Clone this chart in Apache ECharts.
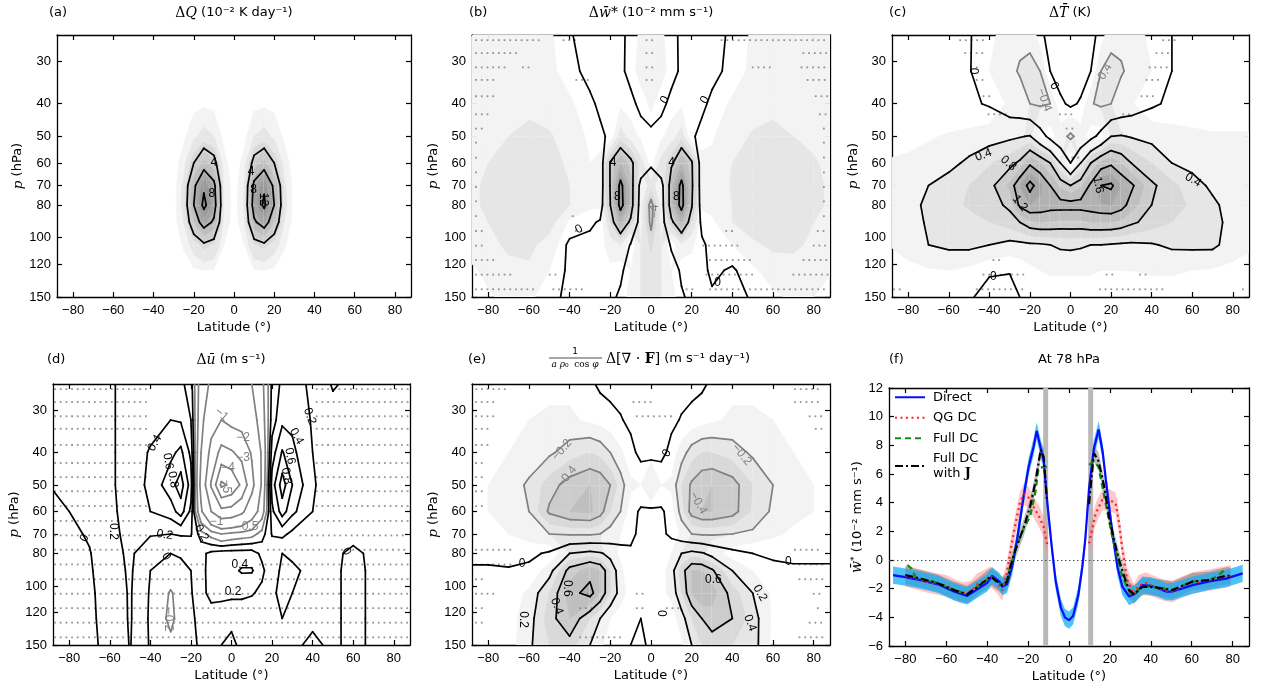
<!DOCTYPE html>
<html>
<head>
<meta charset="utf-8">
<title>Response to tropical lower-stratospheric heating</title>
<script src="https://cdn.jsdelivr.net/npm/echarts@6/dist/echarts.min.js"></script>
<style>
  html, body { margin: 0; padding: 0; background: #fff; }
  #chart { width: 1263px; height: 689px; }
</style>
</head>
<body>
<div id="chart"></div>
<script>
// grid used by the five latitude-pressure panels (rows = pressures, cols = lats)
const lats = [-90, -80, -70, -60, -50, -40, -30, -25, -20, -15, -10, -5, 0, 5, 10, 15, 20, 25, 30, 40, 50, 60, 70, 80, 90];
const pressures = [150, 125, 105, 90, 80, 70, 60, 50, 40, 32, 25];
const pressureTicks = [30, 40, 50, 60, 70, 80, 100, 120, 150];
const latTicks = [-80, -60, -40, -20, 0, 20, 40, 60, 80];

// (a) heating, 10^-2 K/day
const heating = [
  [0,0,0,0,0,0,0,0,0,0,0,0,0,0,0,0,0,0,0,0,0,0,0,0,0],
  [0,0,0,0,0,0,0,0.1,0.3,0.5,0.4,0.1,0,0.1,0.4,0.5,0.3,0.1,0,0,0,0,0,0,0],
  [0,0,0,0,0,0,0,0.6,2.2,3.5,2.8,0.5,0,0.5,2.8,3.5,2.2,0.6,0,0,0,0,0,0,0],
  [0,0,0,0,0,0,0,1.5,6.0,9.5,7.5,1.2,0,1.2,7.5,9.5,6.0,1.5,0,0,0,0,0,0,0],
  [0,0,0,0,0,0,0,2.0,8.0,12.8,9.5,1.5,0,1.5,9.5,12.6,8.0,2.0,0,0,0,0,0,0,0],
  [0,0,0,0,0,0,0,1.8,7.3,11.5,8.8,1.3,0,1.3,8.8,11.5,7.3,1.8,0,0,0,0,0,0,0],
  [0,0,0,0,0,0,0,1.0,4.0,6.5,5.0,0.8,0,0.8,5.0,6.5,4.0,1.0,0,0,0,0,0,0,0],
  [0,0,0,0,0,0,0,0.3,1.2,2.0,1.5,0.2,0,0.2,1.5,2.0,1.2,0.3,0,0,0,0,0,0,0],
  [0,0,0,0,0,0,0,0,0.2,0.3,0.2,0,0,0,0.2,0.3,0.2,0,0,0,0,0,0,0,0],
  [0,0,0,0,0,0,0,0,0,0,0,0,0,0,0,0,0,0,0,0,0,0,0,0,0],
  [0,0,0,0,0,0,0,0,0,0,0,0,0,0,0,0,0,0,0,0,0,0,0,0,0]
];
// (b) residual vertical velocity, 10^-2 mm/s
const wstar = [
  [-0.5,-0.9,-1.2,-1.2,-0.5,0.4,0.5,0.6,0.4,-0.3,-1.5,-2.0,-2.2,-2.0,-1.5,-0.2,0.4,0.5,0.2,0.3,-0.1,-0.8,-1.2,-1.0,-0.6],
  [-0.8,-1.2,-1.7,-1.8,-1.0,0.3,0.4,0.5,0.8,0.4,-1.0,-2.0,-2.5,-2.0,-1.0,0.3,0.6,0.4,-0.3,0.2,-0.8,-1.5,-1.6,-1.3,-1.0],
  [-1.3,-1.7,-2.2,-2.3,-1.5,0.3,0.5,0.6,1.5,2.0,-0.2,-2.0,-3.2,-2.0,0.3,1.8,1.2,0.3,-0.5,-1.0,-1.8,-2.2,-2.2,-1.8,-1.4],
  [-1.6,-2.0,-2.6,-2.8,-2.5,-0.8,-0.3,0.2,3.0,6.0,3.5,-1.5,-4.4,-1.5,3.5,6.0,3.0,-0.5,-0.8,-2.0,-2.5,-2.7,-2.5,-2.0,-1.7],
  [-1.7,-2.2,-2.7,-2.9,-2.7,-2.0,-1.2,-1.2,4.0,8.8,5.5,-1.5,-4.6,-1.5,5.5,8.8,4.2,-1.2,-1.3,-2.0,-2.6,-2.8,-2.6,-2.2,-1.8],
  [-1.7,-2.2,-2.6,-2.8,-2.6,-2.0,-1.2,-1.5,4.2,8.6,5.5,-1.1,-2.5,-1.2,5.5,8.6,4.5,-1.5,-1.3,-2.1,-2.6,-2.8,-2.6,-2.2,-1.8],
  [-1.6,-2.0,-2.4,-2.6,-2.4,-1.8,-1.0,-1.5,4.2,6.0,4.5,2.4,0.6,2.4,3.6,6.0,4.3,-1.5,-1.2,-2.0,-2.5,-2.7,-2.5,-2.1,-1.7],
  [-1.5,-1.8,-2.0,-2.2,-2.1,-1.6,-0.8,-0.3,0.3,2.5,1.5,0.8,0.5,0.8,1.5,2.5,0.2,-0.4,-0.9,-1.6,-2.1,-2.2,-2.0,-1.8,-1.5],
  [-1.4,-1.6,-1.8,-1.8,-1.6,-1.2,-0.3,0.3,0.7,0.8,0.5,-0.5,-1.2,-0.5,0.5,0.8,0.7,0.3,-0.3,-1.2,-1.6,-1.8,-1.8,-1.6,-1.4],
  [-1.3,-1.3,-1.3,-1.3,-1.3,-0.5,0.5,0.6,0.6,0.4,-0.6,-1.4,-1.7,-1.4,-0.6,0.3,0.6,0.6,0.4,-0.4,-1.3,-1.3,-1.3,-1.3,-1.3],
  [-1.2,-1.2,-1.3,-1.3,-1.2,-0.1,0.5,0.5,0.5,0.4,-0.5,-1.2,-1.5,-1.2,-0.5,0.3,0.5,0.5,0.4,-0.2,-1.2,-1.3,-1.3,-1.2,-1.2]
];
// (c) temperature, K
const temp = [
  [0.06,0.08,0.1,0.1,0.05,-0.15,-0.2,0.0,0.1,0.12,0.12,0.12,0.12,0.12,0.12,0.12,0.12,0.12,0.12,0.12,0.12,0.1,0.1,0.08,0.06],
  [0.12,0.15,0.18,0.2,0.15,0.05,0.03,0.08,0.15,0.2,0.22,0.22,0.22,0.22,0.22,0.2,0.2,0.2,0.2,0.22,0.22,0.2,0.18,0.15,0.12],
  [0.2,0.28,0.4,0.45,0.46,0.4,0.33,0.34,0.36,0.37,0.4,0.44,0.45,0.43,0.4,0.4,0.38,0.36,0.35,0.38,0.44,0.45,0.45,0.3,0.22],
  [0.22,0.3,0.43,0.5,0.55,0.6,0.7,0.8,0.95,1.0,0.98,0.95,0.95,0.95,1.0,1.0,1.0,0.95,0.85,0.7,0.6,0.55,0.48,0.32,0.25],
  [0.25,0.32,0.45,0.55,0.62,0.7,0.85,1.25,1.4,1.35,1.3,1.3,1.3,1.3,1.32,1.38,1.4,1.3,1.1,0.8,0.65,0.58,0.45,0.3,0.25],
  [0.25,0.3,0.4,0.5,0.6,0.72,1.05,1.4,1.7,1.45,1.2,0.95,0.8,0.95,1.25,1.6,1.65,1.4,1.25,0.85,0.65,0.5,0.35,0.3,0.28],
  [0.22,0.25,0.28,0.33,0.45,0.58,0.72,0.85,1.15,1.0,0.8,0.4,0.0,0.4,0.8,1.05,1.15,1.0,0.8,0.6,0.4,0.32,0.28,0.25,0.25],
  [0.1,0.12,0.18,0.22,0.25,0.3,0.35,0.38,0.42,0.15,-0.1,-0.3,-0.45,-0.3,-0.1,0.1,0.4,0.42,0.38,0.32,0.28,0.25,0.22,0.22,0.22],
  [0.08,0.08,0.06,0.05,0.05,-0.03,-0.25,-0.3,-0.4,-0.45,-0.4,-0.05,0.05,-0.03,-0.38,-0.45,-0.4,-0.3,-0.22,-0.05,0.06,0.06,0.08,0.08,0.08],
  [0.05,0.05,0.05,0.03,0.02,-0.2,-0.35,-0.42,-0.45,-0.4,0.0,0.12,0.15,0.12,0.0,-0.4,-0.45,-0.42,-0.35,-0.2,0.0,0.03,0.05,0.05,0.05],
  [0.05,0.05,0.05,0.05,0.02,-0.15,-0.3,-0.35,-0.35,-0.1,0.15,0.1,0.1,0.1,0.1,-0.1,-0.35,-0.35,-0.3,-0.15,0.0,0.05,0.05,0.05,0.05]
];
// (d) zonal wind, m/s
const uwind = [
  [-0.04,-0.03,-0.03,0.04,0.21,-0.02,-0.15,-0.1,-0.03,0.02,0.05,0.0,-0.05,0.05,0.05,0.02,0.02,0.02,0.02,-0.02,0.02,-0.03,0.02,0.02,0.02],
  [-0.05,-0.04,-0.03,0.06,0.22,-0.03,-0.25,-0.12,-0.03,0.05,0.12,0.1,0.05,0.05,0.05,0.05,0.0,0.0,0.02,0.02,0.02,-0.03,0.02,0.02,0.02],
  [-0.07,-0.05,-0.03,0.08,0.22,-0.02,-0.22,-0.12,-0.02,0.15,0.25,0.25,0.25,0.25,0.22,0.15,0.02,-0.03,0.0,0.03,0.02,-0.03,0.02,0.02,0.02],
  [-0.08,-0.05,-0.02,0.1,0.23,0.0,-0.08,-0.05,0.0,0.12,0.3,0.35,0.35,0.42,0.42,0.25,0.05,-0.02,-0.02,0.03,0.02,-0.03,0.02,0.02,0.02],
  [-0.08,-0.05,-0.01,0.12,0.24,0.05,0.0,0.02,0.05,0.15,0.25,0.3,0.3,0.3,0.3,0.15,0.05,0.0,0.02,0.05,0.02,-0.02,0.02,0.02,0.02],
  [-0.08,-0.04,0.02,0.15,0.25,0.22,0.2,0.22,0.22,-0.1,-0.3,-0.5,-0.4,-0.35,-0.3,-0.1,0.22,0.25,0.15,0.1,0.05,0.03,0.05,0.05,0.05],
  [-0.05,0.0,0.08,0.16,0.27,0.4,0.5,0.7,0.35,-0.9,-2.0,-2.7,-2.6,-2.2,-1.4,-0.7,0.35,0.7,0.45,0.2,0.08,0.08,0.08,0.08,0.08],
  [0.0,0.08,0.12,0.17,0.28,0.45,0.72,0.9,0.5,-1.2,-3.1,-5.2,-4.8,-3.8,-2.3,-0.9,0.5,0.9,0.6,0.22,0.1,0.1,0.1,0.1,0.1],
  [0.1,0.11,0.13,0.17,0.28,0.42,0.55,0.65,0.35,-1.0,-2.3,-3.3,-3.1,-2.7,-1.9,-0.9,0.3,0.62,0.45,0.2,0.1,0.1,0.1,0.1,0.1],
  [0.12,0.12,0.13,0.17,0.28,0.32,0.4,0.38,0.2,-0.8,-1.6,-2.0,-1.7,-1.6,-1.3,-0.7,0.1,0.35,0.35,0.18,0.08,0.08,0.1,0.1,0.1],
  [0.12,0.12,0.13,0.17,0.28,0.3,0.25,0.25,0.1,-0.7,-1.1,-1.3,-1.3,-1.2,-1.0,-0.6,0.05,0.25,0.3,0.15,-0.02,0.05,0.08,0.1,0.1]
];
// (e) EP flux divergence term, m/s/day
const epdiv = [
  [0.02,0.03,0.05,0.18,0.3,0.35,0.2,0.12,0.05,0.02,0.0,-0.02,0.02,0.02,0.03,0.08,0.2,0.3,0.35,0.3,0.25,0.07,0.04,0.03,0.02],
  [0.03,0.04,0.06,0.15,0.35,0.5,0.3,0.2,0.1,0.05,0.02,0.0,0.02,0.03,0.05,0.15,0.3,0.4,0.45,0.4,0.25,0.08,0.05,0.04,0.03],
  [0.04,0.04,0.05,0.12,0.3,0.55,0.65,0.5,0.3,0.15,0.05,0.05,0.08,0.08,0.12,0.3,0.5,0.6,0.55,0.35,0.2,0.08,0.05,0.04,0.04],
  [0.02,0.02,0.01,0.03,0.15,0.45,0.55,0.5,0.3,0.12,0.04,0.04,0.05,0.06,0.15,0.35,0.5,0.5,0.42,0.2,0.1,0.03,0.02,0.02,0.02],
  [-0.04,-0.04,-0.04,-0.03,0.02,0.2,0.25,0.22,0.15,0.08,0.02,0.03,0.04,0.05,0.1,0.2,0.25,0.22,0.15,0.05,0.0,-0.02,-0.03,-0.03,-0.03],
  [-0.06,-0.08,-0.1,-0.15,-0.2,-0.22,-0.22,-0.2,-0.15,-0.1,-0.03,0.03,0.05,0.03,-0.03,-0.12,-0.2,-0.22,-0.22,-0.2,-0.18,-0.12,-0.08,-0.06,-0.05],
  [-0.08,-0.1,-0.15,-0.2,-0.42,-0.5,-0.52,-0.45,-0.3,-0.2,-0.05,0.02,0.03,0.02,-0.05,-0.25,-0.45,-0.5,-0.5,-0.45,-0.28,-0.18,-0.13,-0.1,-0.08],
  [-0.07,-0.1,-0.14,-0.22,-0.35,-0.45,-0.5,-0.48,-0.4,-0.25,-0.12,-0.1,-0.2,-0.1,-0.12,-0.3,-0.42,-0.48,-0.5,-0.45,-0.3,-0.2,-0.14,-0.1,-0.07],
  [-0.06,-0.08,-0.1,-0.13,-0.18,-0.25,-0.3,-0.27,-0.2,-0.12,-0.04,0.04,0.06,0.04,-0.04,-0.15,-0.25,-0.3,-0.3,-0.25,-0.18,-0.13,-0.1,-0.08,-0.06],
  [-0.06,-0.07,-0.08,-0.1,-0.12,-0.12,-0.08,-0.06,-0.04,-0.01,0.03,0.05,0.08,0.05,0.03,-0.01,-0.04,-0.06,-0.08,-0.12,-0.12,-0.1,-0.08,-0.07,-0.06],
  [-0.05,-0.05,-0.06,-0.06,-0.07,-0.07,-0.02,0.02,0.04,0.05,0.05,0.06,0.08,0.06,0.05,0.05,0.04,0.02,-0.02,-0.07,-0.07,-0.06,-0.06,-0.05,-0.05]
];

// contour labels: [lat, p, text, rotation deg]
const labelsA = [[-10, 60, '4', 0], [-11, 74, '8', 0], [8.5, 63.5, '4', 0], [9.8, 72, '8', 0], [14.8, 77, '12', -90]];
const labelsB = [[6.8, 39, '0', 60], [26.5, 39, '0', 60], [-18.6, 60, '4', 0], [10.1, 60, '4', 0], [-16.5, 75.5, '8', 0],
  [12.5, 75.5, '8', 0], [1.9, 83.6, '−4', 90], [-35.4, 94.4, '0', 30], [32.7, 136, '0', 0]];
const labelsC = [[-47.8, 32, '0', -90], [-8, 35.4, '0', -60], [-13, 39, '−0.4', -70], [16.2, 32.8, '−0.4', 60],
  [-42.9, 56.8, '0.4', 20], [-30.6, 60.1, '0.8', -40], [-24.9, 79, '1.2', -50], [13.7, 69.7, '1.6', -80],
  [60.4, 67.4, '0.4', -30], [-38, 130.5, '0', 0]];
const labelsD = [[-4.9, 30.8, '−1', -40], [5.75, 36.2, '−2', 0], [5.75, 41.5, '−3', 0], [-1.65, 44.5, '−4', 0],
  [-2.5, 50.5, '−5', -90], [-7.4, 64.2, '−1', 0], [7.4, 66.4, '−0.5', 0], [-37.8, 37.5, '0.4', 60],
  [-31.3, 42.5, '0.6', -80], [-28.8, 48.2, '0.8', -80], [38.6, 31.2, '0.2', -70], [32.1, 35.8, '0.4', -60],
  [28.8, 41, '0.6', -80], [27.1, 47, '0.8', -80], [-32.9, 70.4, '0.2', -10], [-14.8, 69.5, '0.2', -60],
  [-72.4, 72, '0', 60], [-58.4, 68.8, '0.2', -90], [-32.1, 81.7, '0', -60], [4.1, 86.5, '0.4', 0],
  [0.8, 104, '0.2', 0], [-31.3, 126, '−0.2', -90], [56.7, 79, '0', -60]];
const labelsE = [[-43.8, 39.3, '−0.2', 50], [-41.3, 47.2, '−0.4', 50], [7.8, 40.2, '0', 60], [44.6, 40.6, '−0.2', -50],
  [23.3, 56.6, '−0.4', -60], [-63.4, 85.6, '0', 0], [67.5, 84.6, '0', 0], [-41.3, 101.6, '0.6', -90],
  [-46.3, 115, '0.4', -70], [-62.6, 126, '0.2', -90], [30.7, 96, '0.6', 0], [53.6, 105, '0.2', -60],
  [48.7, 129, '0.4', -70], [5.3, 120.7, '0', -90]];

// stippling (significance): model levels and [level index, lat from, lat to] runs
const stippleLevels = [25.9, 28.3, 31.2, 34.0, 38.0, 43.0, 47.4, 52.2, 57.8, 64.0, 70.7, 78.0, 86.3, 95.5, 105.5, 116.5, 128.7, 142.3];
const stippleStep = 2.8;
const stippleB = [[0,-86,-54.7],[0,-43,-35],[0,-2.2,2.7],[0,34.7,87],[1,-86,-66],[1,-2.2,2.7],[1,74.9,87],
  [2,-86,-69.5],[2,-63,-59.6],[2,-2.2,2.7],[2,50,58.5],[2,74,87],[3,-86,-76],[3,-36.7,-28.5],[3,-2.2,2.7],[3,77,87],
  [4,-86,-76],[4,81,87],[5,-86,-79],[5,83,87],[6,-86,-82],[6,85,87],[7,-86,-85],[7,85,87],[8,-86,-85],[8,85,87],
  [9,-86,-85],[9,85,87],[10,-86,-85],[10,85,87],[11,-86,-85],[11,85,87],[12,-86,-84],[12,-38.5,-37],[12,85,87],
  [13,-86,-81],[13,-37,-32],[13,37,40],[13,82,87],[14,-86,-82],[14,25.7,43.7],[14,80,87],
  [15,-86,-76],[15,29,48.6],[15,75,87],[16,-86,-68],[16,-49.8,-44.9],[16,27.3,51.9],[16,70,87],
  [17,-86,-58],[17,-48,-31.7],[17,17.5,22.4],[17,29,87]];
const stippleC = [[0,-54.4,-42.9],[0,45.7,53.9],[1,-51.9,-42.9],[1,42.4,49],[2,-49,-44],[2,39,49],[3,-46.2,-41.3],[3,37.5,45.7],
  [4,-42.9,-38],[4,35,42.4],[5,-40.4,-29.8],[5,-5.2,1.4],[5,26,29],[6,-1.9,1.4],[8,-1.9,4.7],
  [15,-38,-34.7],[16,-42.9,-23.2],[16,17.8,21],[16,34.2,37.5],[17,-87,-82.3],[17,-46.2,-21.6],[17,14.5,45.7],[17,85,87]];
const stippleD = [[0,-87,-42],[0,42,87],[1,-87,-42],[1,42,87],[2,-87,-42],[2,42,87],[3,-87,-42],[3,42,87],
  [4,-87,-41],[4,42,87],[5,-87,-41],[5,42,87],[6,-87,-41],[6,42,87],[7,-87,-41],[7,42,87],[8,-87,-41],[8,42,87],
  [9,-87,-42],[9,42,87],[10,-87,-40],[10,34,87],[11,-87,-22],[11,18,87],[12,-87,-12],[12,14,87],
  [13,-87,-14],[13,14,87],[14,-87,87],[15,-87,87],[16,-87,87],[17,-87,87]];
const stippleE = [[0,-85.9,-69.2],[0,70.8,84.7],[1,-86,-75.7],[1,-8.6,1.2],[1,70.8,84.7],[2,-86,-75.7],[2,-7,11],[2,78,84.7],
  [3,-86,-79],[3,81,84.7],[4,-86,-79],[5,-86,-83],[6,-86,-83],[7,-86,-83],[8,-86,-83],
  [11,-86,-69.2],[11,70.8,84.7],[12,-86,-69.2],[12,73,84.7],[13,-86,-81],[13,73,84.7],
  [14,-86,-75.7],[14,-34,-28],[14,-7,-2],[14,80,84.7],[15,-86,-81],[15,-34.8,-28.3],[15,-7,-2],[15,7.8,14.3],[15,82,84.7],
  [16,-86,-81],[16,78,84.7],[17,-34.8,-15.1],[17,73,84.7]];

// (f) w* at 78 hPa, 10^-2 mm/s
const directLat = [-86,-80,-72.6,-64,-56.3,-49.8,-43.3,-40,-37.6,-34,-32.7,-30.3,-27.8,-25.4,-22.2,-19.7,-17.3,-15.8,-13.5,-12.4,
  -10.6,-8.5,-6.5,-4,-2,0,2,4.5,6.5,8,9.8,12.2,14.5,16.5,18,21.2,23.7,26.1,29.4,32.7,35.9,40,44,47.4,50.6,55,60.4,68.5,76.7,84.9];
const directVal = [-1.05,-1.2,-1.4,-1.7,-2.2,-2.5,-1.9,-1.6,-1.1,-1.5,-1.86,-1.7,-0.47,1.4,4.43,6.53,7.9,9.0,7.6,7.0,
  4.0,1.0,-1.5,-3.3,-4.0,-4.2,-3.9,-2.5,-0.5,1.5,5.0,7.8,9.1,7.5,5.6,1.9,-0.5,-1.86,-2.55,-2.3,-1.75,-1.8,-2.0,-2.2,-2.2,-2.0,-1.75,-1.5,-1.3,-0.93];
const qgLat = [-80,-75,-70,-64,-60,-56,-52,-48,-45,-41,-38,-35,-32.7,-30.5,-28.8,-26.2,-24,-22,-20,-17.3,-14.5,-12.4,-10.5,
  9.8,13.1,16.3,19.6,22.8,24.5,26.1,28.5,31.8,34,37.5,42.4,46,50.6,55,60.4,68.5,76.7,79];
const qgVal = [-1.1,-1.3,-1.5,-1.7,-1.8,-2.1,-2.3,-2.2,-1.7,-1.4,-1.2,-1.6,-2.1,-1.0,0.5,2.5,4.0,4.6,4.4,3.7,3.0,2.3,1.0,
  1.16,3.27,4.2,4.2,3.96,2.57,0.7,-1.4,-2.4,-1.8,-1.6,-1.9,-2.1,-2.2,-1.9,-1.6,-1.4,-1.16,-1.1];
const fullLat = [-79,-77,-75,-70,-64,-56,-50,-45,-38,-33,-30.3,-28.7,-26.2,-23.8,-22.2,-19,-16.5,-14.9,-12.4,-10.8,
  9.8,12.2,14.4,16.3,18.8,21.2,23.7,26.1,28.5,30.1,32,36,42.4,50.6,60.4,68.5,73,76.7];
const fullVal = [-0.35,-0.6,-1.2,-1.4,-1.6,-2.1,-2.4,-1.9,-1.16,-1.75,-1.5,-0.47,0.7,1.63,2.2,3.03,4.67,6.4,6.5,6.5,
  6.64,6.9,6.5,5.13,3.3,1.6,0.2,-1.16,-1.86,-2.4,-2.3,-1.86,-1.9,-2.1,-1.5,-1.4,-1.1,-0.58];
const fullJLat = [-80,-72.6,-64.5,-56.3,-49.8,-44.9,-38.4,-32.7,-30.3,-28.7,-26.2,-23.8,-22.2,-19,-16.5,-13.8,-12.4,-10.8,
  9.8,12.2,14.4,17.2,19.6,22,24.5,27,29.4,31.8,35.9,42.4,50.6,60.4,68.5,76.7,79];
const fullJVal = [-1.05,-1.3,-1.6,-2.1,-2.4,-1.9,-1.16,-1.75,-1.5,-0.47,0.7,1.63,2.24,3.73,5.37,7.7,7.2,4.2,
  3.9,7.46,6.9,5.13,3.0,1.4,0.0,-1.16,-2.1,-2.4,-1.86,-1.9,-2.1,-1.5,-1.4,-1.1,-1.1];
const directSpread = 0.6, qgSpread = 0.75, fullJSpread = 0.6;
const masked = [-11.4, 10.6];   // latitudes greyed out in (f)

const chart = echarts.init(document.getElementById('chart'));
const SANS = 'DejaVu Sans';
const NUM = 'Liberation Sans';
const SERIF = 'DejaVu Serif';
const NEG = '#808080';
const lp = p => Math.log10(p);
const minus = v => String(v).replace('-', '−');
function shade(k) { const g = 243 - k * 13; return 'rgb(' + g + ',' + g + ',' + g + ')'; }

// plot boxes in pixels: a b c / d e f
const boxes = [
  { left: 57, top: 35, width: 354, height: 262 },
  { left: 472, top: 35, width: 358, height: 262 },
  { left: 892, top: 35, width: 357, height: 262 },
  { left: 53, top: 384, width: 357, height: 261 },
  { left: 472, top: 384, width: 358, height: 261 },
  { left: 889, top: 388, width: 360, height: 258 }
];

const panels = [
  { field: heating, fills: [0.5, 1.5, 3, 4.5, 6, 7.5, 9, 10.5, 12], lines: [4, 8, 12], labels: labelsA, stipple: [] },
  { field: wstar, fills: [1, 2, 3, 4, 5, 6, 7, 8], lines: [-4, 0, 4, 8], labels: labelsB, stipple: stippleB },
  { field: temp, fills: [0.2, 0.4, 0.6, 0.8, 1.0, 1.2, 1.4, 1.6], lines: [-0.4, 0, 0.4, 0.8, 1.2, 1.6], labels: labelsC, stipple: stippleC },
  { field: uwind, fills: [], lines: [-5, -4, -3, -2, -1, -0.5, -0.2, 0, 0.2, 0.4, 0.6, 0.8], labels: labelsD, stipple: stippleD },
  { field: epdiv, fills: [0.1, 0.2, 0.3, 0.4, 0.5, 0.6], lines: [-0.4, -0.2, 0, 0.2, 0.4, 0.6], labels: labelsE, stipple: stippleE }
];

const axisLine = { show: true, onZero: false, lineStyle: { color: '#000', width: 1.3 } };
const tickStyle = { color: '#000', width: 1.2 };
const labelFont = { fontFamily: NUM, fontSize: 13, color: '#000' };
const nameFont = { fontFamily: SANS, fontSize: 13, color: '#000' };

const xAxis = [], yAxis = [];
boxes.forEach((b, k) => {
  const base = { type: 'value', gridIndex: k, min: -88, max: 88, axisLine, splitLine: { show: false },
    axisTick: { inside: true, length: 5, customValues: latTicks, lineStyle: tickStyle } };
  xAxis.push(Object.assign({}, base, { position: 'bottom', name: 'Latitude (°)', nameLocation: 'middle', nameGap: 24,
    nameTextStyle: nameFont,
    axisLabel: Object.assign({ customValues: latTicks, margin: 7, formatter: minus }, labelFont) }));
  xAxis.push(Object.assign({}, base, { position: 'top', axisLabel: { show: false } }));

  if (k < 5) {
    const ticks = pressureTicks.map(lp);
    const ybase = { type: 'value', gridIndex: k, inverse: true, min: lp(25), max: lp(150), axisLine, splitLine: { show: false },
      axisTick: { inside: true, length: 5, customValues: ticks, lineStyle: tickStyle } };
    yAxis.push(Object.assign({}, ybase, { position: 'left', name: '{i|p} (hPa)', nameLocation: 'middle', nameRotate: 90,
      nameGap: k === 0 ? 32 : 29,
      nameTextStyle: Object.assign({ rich: { i: { fontFamily: SERIF, fontStyle: 'italic', fontSize: 13.5 } } }, nameFont),
      axisLabel: Object.assign({ customValues: ticks, margin: 6, formatter: v => String(Math.round(Math.pow(10, v))) }, labelFont) }));
    yAxis.push(Object.assign({}, ybase, { position: 'right', axisLabel: { show: false } }));
  } else {
    const ybase = { type: 'value', gridIndex: k, min: -6, max: 12, interval: 2, axisLine, splitLine: { show: false },
      axisTick: { inside: true, length: 5, lineStyle: tickStyle } };
    yAxis.push(Object.assign({}, ybase, { position: 'left', name: '{i|w̄}{s|*} (10⁻² mm s⁻¹)', nameLocation: 'middle',
      nameRotate: 90, nameGap: 23,
      nameTextStyle: Object.assign({ rich: {
        i: { fontFamily: SERIF, fontStyle: 'italic', fontSize: 14 }, s: { fontFamily: SANS, fontSize: 9, verticalAlign: 'top' } } }, nameFont),
      axisLabel: Object.assign({ margin: 6, formatter: minus }, labelFont) }));
    yAxis.push(Object.assign({}, ybase, { position: 'right', axisLabel: { show: false } }));
  }
});

// filled bands of |value| and contour lines, one cell of the lat-p grid at a time
function contourSeries(k, field, levels, mode) {
  const cells = [];
  for (let i = 0; i < pressures.length - 1; i++)
    for (let j = 0; j < lats.length - 1; j++)
      cells.push([lats[j], lp(pressures[i]), i, j]);
  return {
    type: 'custom', xAxisIndex: 2 * k, yAxisIndex: 2 * k, clip: true, silent: true, animation: false,
    z: mode === 'fill' ? 1 : 3,
    data: cells, encode: { x: 0, y: 1 },
    renderItem(params, api) {
      const i = api.value(2), j = api.value(3);
      const idx = [[i, j], [i, j + 1], [i + 1, j + 1], [i + 1, j]];
      const pts = idx.map(([a, b]) => api.coord([lats[b], lp(pressures[a])]));
      const raw = idx.map(([a, b]) => field[a][b]);
      const cut = (c, n, v, L) => {
        const t = (L - v[c]) / (v[n] - v[c]);
        return [pts[c][0] + t * (pts[n][0] - pts[c][0]), pts[c][1] + t * (pts[n][1] - pts[c][1])];
      };
      const children = [];
      if (mode === 'fill') {
        const v = raw.map(Math.abs);
        levels.forEach((L, s) => {
          const poly = [];
          for (let c = 0; c < 4; c++) {
            const n = (c + 1) % 4;
            if (v[c] >= L) poly.push(pts[c]);
            if ((v[c] >= L) !== (v[n] >= L)) poly.push(cut(c, n, v, L));
          }
          if (poly.length > 2)
            children.push({ type: 'polygon', shape: { points: poly }, style: { fill: shade(s), stroke: shade(s), lineWidth: 0.6 } });
        });
      } else {
        const v = raw;
        levels.forEach(L => {
          const cross = [];
          for (let c = 0; c < 4; c++) {
            const n = (c + 1) % 4;
            cross.push((v[c] >= L) !== (v[n] >= L) ? cut(c, n, v, L) : null);
          }
          const hit = cross.filter(Boolean);
          let segs = [];
          if (hit.length === 2) segs = [hit];
          else if (hit.length === 4) {
            const mid = (v[0] + v[1] + v[2] + v[3]) / 4;
            segs = ((mid >= L) === (v[0] >= L)) ? [[cross[0], cross[1]], [cross[2], cross[3]]]
                                               : [[cross[3], cross[0]], [cross[1], cross[2]]];
          }
          segs.forEach(sg => children.push({ type: 'polyline', shape: { points: sg },
            style: { stroke: L < 0 ? NEG : '#000', lineWidth: 1.7, fill: null, lineCap: 'round' } }));
        });
      }
      return { type: 'group', children };
    }
  };
}

function labelSeries(k, labels) {
  return {
    type: 'custom', xAxisIndex: 2 * k, yAxisIndex: 2 * k, silent: true, animation: false, z: 4,
    data: labels.map((l, n) => [l[0], lp(l[1]), n]), encode: { x: 0, y: 1 },
    renderItem(params, api) {
      const l = labels[api.value(2)];
      const pos = api.coord([l[0], lp(l[1])]);
      return { type: 'text', x: pos[0], y: pos[1], rotation: l[3] * Math.PI / 180,
        style: { text: l[2], font: '12px "Liberation Sans"', fill: l[2].startsWith('−') ? NEG : '#000',
          textAlign: 'center', textVerticalAlign: 'middle', align: 'center', verticalAlign: 'middle' } };
    }
  };
}

function stippleSeries(k, runs) {
  const dots = [];
  runs.forEach(([lev, a, b]) => {
    for (let x = a; x <= b + 0.01; x += stippleStep) dots.push([x, lp(stippleLevels[lev])]);
  });
  return { type: 'scatter', xAxisIndex: 2 * k, yAxisIndex: 2 * k, silent: true, animation: false, z: 2,
    symbol: 'rect', symbolSize: 1.8, itemStyle: { color: '#7a7a7a' }, data: dots };
}

function pairs(lat, val) {
  const out = [];
  lat.forEach((x, i) => {
    if (i && x - lat[i - 1] > 10) out.push([(x + lat[i - 1]) / 2, '-']);
    out.push([x, val[i]]);
  });
  return out;
}
function segments(lat, val) {
  const segs = [[]];
  lat.forEach((x, i) => {
    if (i && x - lat[i - 1] > 10) segs.push([]);
    segs[segs.length - 1].push([x, val[i]]);
  });
  return segs;
}
function bandSeries(lat, val, spread, color) {
  return {
    type: 'custom', xAxisIndex: 10, yAxisIndex: 10, clip: true, silent: true, animation: false, z: 2,
    data: [[0, 0]],
    renderItem(params, api) {
      return { type: 'group', children: segments(lat, val).map(sg => ({
        type: 'polygon',
        shape: { points: sg.map(([x, y]) => api.coord([x, y + spread]))
          .concat(sg.slice().reverse().map(([x, y]) => api.coord([x, y - spread]))) },
        style: { fill: color } })) };
    }
  };
}
function lineSeries(name, lat, val, color, type, width, extra) {
  return Object.assign({ type: 'line', name, xAxisIndex: 10, yAxisIndex: 10, symbol: 'none', z: 5, animation: false,
    connectNulls: false, data: pairs(lat, val), lineStyle: { color, type, width }, itemStyle: { color } }, extra || {});
}

const series = [];
panels.forEach((pn, k) => {
  if (pn.fills.length) series.push(contourSeries(k, pn.field, pn.fills, 'fill'));
  if (pn.stipple.length) series.push(stippleSeries(k, pn.stipple));
  series.push(contourSeries(k, pn.field, pn.lines, 'line'));
  series.push(labelSeries(k, pn.labels));
});

series.push({
  type: 'custom', xAxisIndex: 10, yAxisIndex: 10, silent: true, animation: false, z: 1,
  data: masked.map(x => [x, 0]),
  renderItem(params, api) {
    const x = api.coord([api.value(0), 0])[0];
    const cs = params.coordSys;
    return { type: 'rect', shape: { x: x - 2.5, y: cs.y, width: 5, height: cs.height }, style: { fill: '#b9b9b9' } };
  }
});
series.push(bandSeries(qgLat, qgVal, qgSpread, 'rgba(255,130,130,0.45)'));
series.push(bandSeries(fullJLat, fullJVal, fullJSpread, 'rgba(100,100,100,0.42)'));
series.push(bandSeries(directLat, directVal, directSpread, 'rgba(20,175,245,0.75)'));
series.push(lineSeries('Direct', directLat, directVal, '#0a0aff', 'solid', 2.2, {
  markLine: { silent: true, symbol: 'none', label: { show: false }, animation: false,
    lineStyle: { color: '#555', type: [1.5, 2.5], width: 1 }, data: [{ yAxis: 0 }] } }));
series.push(lineSeries('QG DC', qgLat, qgVal, '#ff2020', [2, 3.5], 2.2));
series.push(lineSeries('Full DC', fullLat, fullVal, '#138a13', [6, 4], 2.2));
series.push(lineSeries('Full DC with J', fullJLat, fullJVal, '#000', [8, 3, 2, 3], 2.2));

const titleRich = {
  m: { fontFamily: SERIF, fontStyle: 'italic', fontSize: 14 },
  g: { fontFamily: SERIF, fontSize: 14 },
  b: { fontFamily: SERIF, fontWeight: 'bold', fontSize: 14 }
};
function txt(x, y, text, align, size) {
  return { type: 'text', x, y, silent: true,
    style: { text, font: (size || 13) + 'px "DejaVu Sans"', fill: '#000', rich: titleRich,
      textAlign: align || 'center', textVerticalAlign: 'middle', align: align || 'center', verticalAlign: 'middle' } };
}
const graphic = [
  txt(49, 13, '(a)', 'left'), txt(469, 13, '(b)', 'left'), txt(889, 13, '(c)', 'left'),
  txt(47, 360, '(d)', 'left'), txt(468, 360, '(e)', 'left'), txt(889, 360, '(f)', 'left'),
  txt(234, 13, '{g|Δ}{m|Q} (10⁻² K day⁻¹)'),
  txt(651, 13, '{g|Δ}{m|w̄*} (10⁻² mm s⁻¹)'),
  txt(1070, 13, '{g|Δ}{m|T̄} (K)'),
  txt(231, 360, '{g|Δ}{m|ū} (m s⁻¹)'),
  txt(575, 352, '1', 'center', 9),
  { type: 'line', silent: true, shape: { x1: 549, y1: 358, x2: 602, y2: 358 }, style: { stroke: '#000', lineWidth: 0.7 } },
  { type: 'text', x: 575, y: 365, silent: true, style: { text: '{i|a ρ}₀  cos {i|φ}', font: '9px "DejaVu Serif"', fill: '#000',
    rich: { i: { fontFamily: SERIF, fontStyle: 'italic', fontSize: 9 } },
    textAlign: 'center', textVerticalAlign: 'middle', align: 'center', verticalAlign: 'middle' } },
  txt(606, 359, '{g|Δ[∇ · }{b|F}{g|]} (m s⁻¹ day⁻¹)', 'left'),
  txt(1069, 360, 'At 78 hPa')
];

chart.setOption({
  animation: false,
  backgroundColor: '#fff',
  grid: boxes.map(b => Object.assign({ containLabel: false }, b)),
  xAxis, yAxis, series, graphic,
  legend: {
    data: ['Direct', 'QG DC', 'Full DC', 'Full DC with J'],
    orient: 'vertical', left: 894, top: 390, padding: 0, itemGap: 6, itemWidth: 30, itemHeight: 12,
    selectedMode: false,
    itemStyle: { opacity: 0 },
    textStyle: { fontFamily: SANS, fontSize: 13, lineHeight: 14.5, color: '#000', padding: [0, 0, 0, 3],
      rich: { b: { fontFamily: SERIF, fontWeight: 'bold', fontSize: 13, lineHeight: 14.5 } } },
    formatter: name => name === 'Full DC with J' ? 'Full DC\nwith {b|J}' : name
  }
});
window.addEventListener('resize', () => chart.resize());
</script>
</body>
</html>
